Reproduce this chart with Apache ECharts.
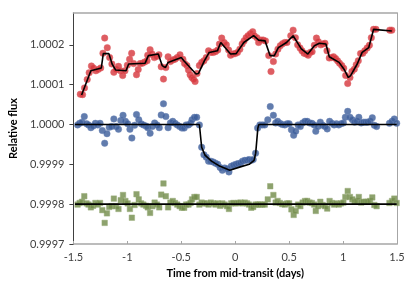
<!DOCTYPE html>
<html><head><meta charset="utf-8">
<script src="https://cdn.jsdelivr.net/npm/echarts@6/dist/echarts.min.js"></script>
<style>html,body{margin:0;padding:0;background:#fff}#c{width:415px;height:293px}</style>
</head><body><div id="c"></div>
<script>
// ---- axes ----
const xMin = -1.5, xMax = 1.5, xStep = 0.5;
const yTicks = [0.9997, 0.9998, 0.9999, 1.0000, 1.0001, 1.0002];
const yMin = 0.9997, yMax = 1.00028;

// ---- red (upper) series ----
const tRed = [-1.436,-1.415,-1.397,-1.372,-1.354,-1.333,-1.314,-1.292,-1.271,-1.247,
-1.226,-1.210,-1.186,-1.164,-1.143,-1.125,-1.104,-1.082,-1.064,-1.043,
-1.022,-1.000,-0.979,-0.960,-0.942,-0.915,-0.899,-0.881,-0.860,-0.839,
-0.817,-0.811,-0.789,-0.771,-0.750,-0.729,-0.707,-0.686,-0.665,-0.643,
-0.622,-0.601,-0.579,-0.558,-0.537,-0.512,-0.485,-0.469,-0.448,-0.433,
-0.418,-0.402,-0.387,-0.372,-0.354,-0.332,-0.311,-0.290,-0.268,-0.247,
-0.226,-0.204,-0.183,-0.162,-0.146,-0.125,-0.103,-0.082,-0.061,-0.043,
-0.021,0.000,0.021,0.043,0.064,0.082,0.101,0.119,0.140,0.162,
0.177,0.201,0.217,0.238,0.259,0.281,0.311,0.332,0.354,0.375,
0.396,0.418,0.439,0.460,0.480,0.515,0.537,0.558,0.579,0.601,
0.619,0.638,0.659,0.677,0.695,0.713,0.734,0.753,0.771,0.793,
0.811,0.832,0.851,0.872,0.894,0.912,0.930,0.949,0.967,0.988,
1.006,1.024,1.043,1.064,1.082,1.104,1.122,1.141,1.162,1.183,
1.201,1.223,1.244,1.262,1.283,1.305,1.433,1.452];
const fluxRed = [1.000076,1.000075,1.000092,1.000113,1.000130,1.000147,1.000142,1.000135,1.000138,1.000142,
1.000179,1.000217,1.000193,1.000168,1.000152,1.000131,1.000138,1.000146,1.000135,1.000123,
1.000135,1.000149,1.000164,1.000179,1.000153,1.000125,1.000138,1.000153,1.000154,1.000157,
1.000160,1.000174,1.000188,1.000177,1.000168,1.000171,1.000175,1.000145,1.000114,1.000143,
1.000170,1.000158,1.000162,1.000164,1.000168,1.000175,1.000164,1.000153,1.000148,1.000137,
1.000125,1.000118,1.000114,1.000108,1.000128,1.000148,1.000156,1.000160,1.000168,1.000185,
1.000181,1.000181,1.000183,1.000187,1.000202,1.000217,1.000206,1.000200,1.000187,1.000174,
1.000177,1.000178,1.000181,1.000189,1.000202,1.000210,1.000218,1.000223,1.000228,1.000233,
1.000223,1.000218,1.000206,1.000212,1.000212,1.000210,1.000173,1.000133,1.000158,1.000177,
1.000189,1.000198,1.000203,1.000206,1.000206,1.000223,1.000237,1.000218,1.000200,1.000192,
1.000185,1.000179,1.000177,1.000174,1.000181,1.000183,1.000199,1.000217,1.000208,1.000200,
1.000202,1.000204,1.000185,1.000167,1.000168,1.000170,1.000166,1.000160,1.000154,1.000148,
1.000141,1.000123,1.000103,1.000118,1.000133,1.000139,1.000150,1.000160,1.000178,1.000179,
1.000185,1.000192,1.000199,1.000218,1.000239,1.000239,1.000237,1.000237];
const tRedModel = [-1.424,-1.338,-1.241,-1.223,-1.171,-1.141,-1.109,-1.012,-0.988,-0.835,
-0.805,-0.713,-0.677,-0.647,-0.622,-0.500,-0.476,-0.363,-0.341,-0.286,
-0.241,-0.165,-0.134,-0.043,0.009,0.080,0.171,0.217,0.277,0.323,
0.363,0.400,0.476,0.537,0.613,0.674,0.734,0.780,0.841,0.872,
0.963,1.009,1.049,1.070,1.131,1.177,1.238,1.283,1.452];
const fluxRedModel = [1.000074,1.000135,1.000142,1.000178,1.000178,1.000152,1.000137,1.000135,1.000152,1.000154,
1.000173,1.000177,1.000148,1.000143,1.000156,1.000168,1.000160,1.000127,1.000128,1.000160,
1.000181,1.000185,1.000206,1.000177,1.000178,1.000206,1.000223,1.000212,1.000210,1.000173,
1.000173,1.000193,1.000206,1.000223,1.000190,1.000177,1.000198,1.000204,1.000202,1.000170,
1.000156,1.000139,1.000118,1.000123,1.000152,1.000181,1.000193,1.000239,1.000235];

// ---- blue (transit) series ----
const tBlue = [-1.461,-1.442,-1.420,-1.399,-1.378,-1.360,-1.338,-1.317,-1.296,-1.274,
-1.253,-1.232,-1.210,-1.189,-1.168,-1.146,-1.125,-1.104,-1.082,-1.061,
-1.040,-1.018,-0.997,-0.976,-0.958,-0.933,-0.915,-0.894,-0.872,-0.851,
-0.826,-0.811,-0.789,-0.768,-0.747,-0.725,-0.704,-0.686,-0.665,-0.643,
-0.622,-0.601,-0.579,-0.558,-0.537,-0.515,-0.494,-0.473,-0.455,-0.433,
-0.414,-0.400,-0.378,-0.357,-0.332,-0.311,-0.290,-0.268,-0.247,-0.226,
-0.204,-0.183,-0.162,-0.140,-0.119,-0.098,-0.076,-0.058,-0.037,-0.016,
0.006,0.027,0.049,0.067,0.089,0.110,0.128,0.149,0.167,0.189,
0.208,0.229,0.252,0.274,0.302,0.325,0.354,0.375,0.393,0.414,
0.436,0.460,0.482,0.500,0.521,0.542,0.561,0.583,0.604,0.625,
0.647,0.668,0.689,0.711,0.732,0.747,0.768,0.789,0.811,0.832,
0.853,0.875,0.896,0.917,0.939,0.960,0.981,1.003,1.021,1.043,
1.064,1.086,1.107,1.128,1.146,1.168,1.189,1.210,1.228,1.250,
1.271,1.290,1.311,1.430,1.454,1.475,1.497];
const fluxBlue = [0.999999,1.000003,1.000006,1.000020,1.000002,0.999999,0.999992,0.999996,1.000003,0.999999,
1.000003,0.999985,0.999953,0.999977,0.999993,0.999995,1.000014,0.999995,0.999988,1.000010,
1.000023,1.000008,1.000002,0.999988,0.999966,0.999998,1.000025,1.000012,1.000002,0.999999,
0.999996,0.999992,0.999978,0.999995,1.000004,0.999999,0.999992,1.000024,1.000052,1.000020,
0.999992,1.000004,1.000008,1.000003,0.999999,0.999995,0.999991,0.999991,0.999999,0.999999,
1.000003,1.000012,1.000018,1.000018,0.999999,0.999943,0.999924,0.999918,0.999908,0.999908,
0.999906,0.999903,0.999900,0.999892,0.999885,0.999891,0.999889,0.999881,0.999895,0.999898,
0.999900,0.999902,0.999903,0.999908,0.999910,0.999910,0.999912,0.999910,0.999912,0.999928,
0.999991,0.999999,0.999999,0.999999,1.000012,1.000045,1.000023,1.000004,1.000008,1.000003,
1.000000,0.999999,1.000002,1.000002,0.999987,0.999973,0.999983,0.999999,0.999995,1.000004,
1.000008,1.000008,1.000004,1.000003,0.999999,0.999983,0.999995,1.000006,0.999998,0.999995,
0.999989,1.000008,1.000003,0.999999,1.000002,0.999999,1.000002,1.000004,1.000018,1.000033,
1.000018,1.000012,1.000006,1.000008,1.000018,1.000004,1.000006,1.000006,1.000006,1.000008,
1.000017,0.999998,0.999995,1.000003,1.000008,1.000014,1.000003];
const tBlueModel = [-1.485,-0.332,-0.311,-0.280,-0.220,-0.140,-0.050,0.040,0.130,0.175,0.190,0.210,0.220,1.497];
const fluxBlueModel = [1.0,1.0,0.999943,0.999923,0.999908,0.999895,0.999885,0.999893,0.999900,0.999910,0.999928,0.999991,1.0,1.0];

// ---- green (residual) series, same times as blue ----
const fluxGreen = [0.999799,0.999803,0.999806,0.999820,0.999802,0.999799,0.999792,0.999796,0.999803,0.999799,
0.999803,0.999785,0.999753,0.999777,0.999793,0.999795,0.999814,0.999795,0.999788,0.999810,
0.999823,0.999808,0.999802,0.999788,0.999766,0.999798,0.999825,0.999812,0.999802,0.999799,
0.999796,0.999792,0.999778,0.999795,0.999804,0.999799,0.999792,0.999824,0.999852,0.999820,
0.999792,0.999804,0.999808,0.999803,0.999799,0.999795,0.999791,0.999791,0.999799,0.999799,
0.999803,0.999812,0.999818,0.999818,0.999799,0.999804,0.999802,0.999802,0.999799,0.999804,
0.999802,0.999799,0.999802,0.999796,0.999802,0.999799,0.999795,0.999788,0.999802,0.999803,
0.999802,0.999803,0.999804,0.999802,0.999804,0.999802,0.999799,0.999791,0.999793,0.999799,
0.999799,0.999799,0.999799,0.999799,0.999812,0.999845,0.999823,0.999804,0.999808,0.999803,
0.999800,0.999799,0.999802,0.999802,0.999787,0.999773,0.999783,0.999799,0.999795,0.999804,
0.999808,0.999808,0.999804,0.999803,0.999799,0.999783,0.999795,0.999806,0.999798,0.999795,
0.999789,0.999808,0.999803,0.999799,0.999802,0.999799,0.999802,0.999804,0.999818,0.999833,
0.999818,0.999812,0.999806,0.999808,0.999818,0.999804,0.999806,0.999806,0.999806,0.999808,
0.999817,0.999798,0.999795,0.999803,0.999808,0.999814,0.999803];
const tGreenModel = [-1.485, 1.497];
const fluxGreenModel = [0.9998, 0.9998];

const zip = (a, b) => a.map((v, i) => [v, b[i]]);

const FONT = 'Lato, "Liberation Sans", sans-serif';
const chart = echarts.init(document.getElementById('c'), null, {renderer: 'canvas'});
chart.setOption({
  animation: false,
  backgroundColor: '#ffffff',
  grid: {left: 69, right: 18, top: 13, bottom: 49},
  xAxis: [{
    type: 'value', min: xMin, max: xMax, interval: xStep,
    name: 'Time from mid-transit (days)', nameLocation: 'middle', nameGap: 24,
    nameTextStyle: {fontFamily: FONT, fontWeight: 'bold', fontSize: 11, color: '#000'},
    axisLine: {onZero: false, lineStyle: {color: '#a6a6a6', width: 1.5}},
    axisTick: {inside: true, length: 3, lineStyle: {color: '#a6a6a6'}},
    axisLabel: {margin: 8, fontFamily: FONT, fontSize: 11, color: '#404040'},
    splitLine: {show: false}
  }, {
    type: 'value', position: 'top', min: xMin, max: xMax,
    axisLine: {onZero: false, lineStyle: {color: '#a6a6a6', width: 1.5}},
    axisTick: {show: false}, axisLabel: {show: false}, splitLine: {show: false}
  }],
  yAxis: [{
    type: 'value', min: yMin, max: yMax, interval: 0.0001,
    name: 'Relative flux', nameLocation: 'middle', nameGap: 44,
    nameTextStyle: {fontFamily: FONT, fontWeight: 'bold', fontSize: 11, color: '#000'},
    axisLine: {onZero: false, lineStyle: {color: '#404040', width: 1}},
    axisTick: {length: 4, customValues: yTicks, lineStyle: {color: '#404040'}},
    axisLabel: {margin: 9, customValues: yTicks, fontFamily: FONT, fontSize: 11, color: '#404040',
      formatter: v => v.toFixed(4)},
    splitLine: {show: false}
  }, {
    type: 'value', position: 'right', min: yMin, max: yMax,
    axisLine: {onZero: false, lineStyle: {color: '#a6a6a6', width: 1}},
    axisTick: {show: false}, axisLabel: {show: false}, splitLine: {show: false}
  }],
  series: [
    {type: 'scatter', data: zip(tRed, fluxRed), symbol: 'circle', symbolSize: 6.5,
     itemStyle: {color: '#d6343b', borderColor: '#e06368', borderWidth: 0.6}, z: 2},
    {type: 'scatter', data: zip(tBlue, fluxBlue), symbol: 'circle', symbolSize: 6.5,
     itemStyle: {color: '#3a5b99', borderColor: '#6a83b5', borderWidth: 0.6}, z: 2},
    {type: 'scatter', data: zip(tBlue, fluxGreen), symbol: 'rect', symbolSize: 5.5,
     itemStyle: {color: '#718b48', borderColor: '#98ab78', borderWidth: 0.6}, z: 2},
    {type: 'line', data: zip(tRedModel, fluxRedModel), showSymbol: false, symbol: 'none',
     lineStyle: {color: '#000', width: 1.6}, z: 3},
    {type: 'line', data: zip(tBlueModel, fluxBlueModel), showSymbol: false, symbol: 'none',
     lineStyle: {color: '#000', width: 1.6}, z: 3},
    {type: 'line', data: zip(tGreenModel, fluxGreenModel), showSymbol: false, symbol: 'none',
     lineStyle: {color: '#000', width: 1.6}, z: 3}
  ]
});
</script></body></html>
